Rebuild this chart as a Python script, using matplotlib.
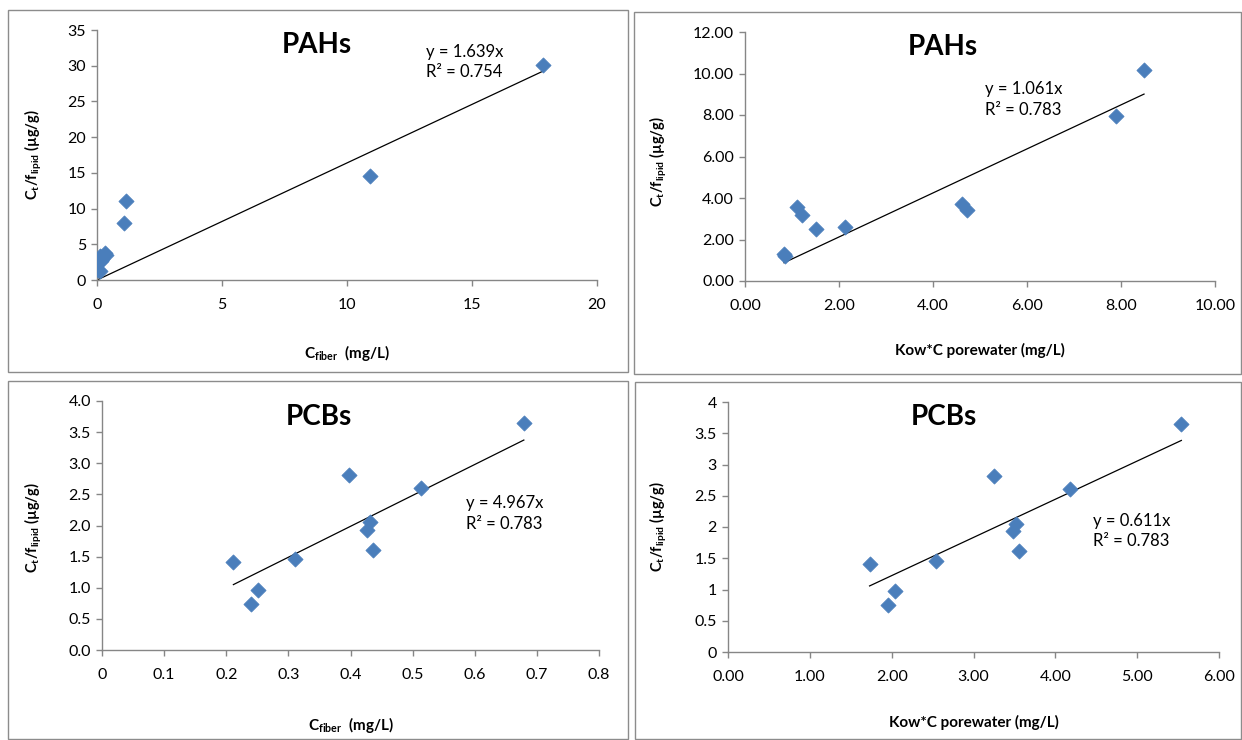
import matplotlib
matplotlib.use("Agg")
import matplotlib.pyplot as plt
import numpy as np
from matplotlib.patches import Rectangle
from matplotlib.ticker import FixedLocator, FixedFormatter

plt.rcParams['font.family'] = ['Lato', 'DejaVu Sans']
plt.rcParams['mathtext.fontset'] = 'custom'
plt.rcParams['mathtext.rm'] = 'Lato'
plt.rcParams['mathtext.bf'] = 'Lato:bold'

# PAHs, C_fiber
pah_fib_x = [17.85, 10.9, 1.15, 1.08, 0.30, 0.35, 0.10, 0.15, 0.20, 0.05, 0.10]
pah_fib_y = [30.1, 14.6, 11.1, 8.05, 3.8, 3.5, 3.4, 2.7, 3.0, 1.35, 1.2]
pah_fib_slope = 1.639
pah_fib_r2 = 0.754

# PAHs, Kow*C porewater
pah_kow_x = [8.49, 7.90, 4.62, 4.72, 1.11, 1.22, 1.50, 2.12, 0.83, 0.85]
pah_kow_y = [10.15, 7.95, 3.71, 3.42, 3.56, 3.18, 2.53, 2.58, 1.30, 1.20]
pah_kow_slope = 1.061
pah_kow_r2 = 0.783

# PCBs, C_fiber
pcb_fib_x = [0.679, 0.513, 0.398, 0.431, 0.426, 0.437, 0.310, 0.2115, 0.2516, 0.2406]
pcb_fib_y = [3.65, 2.61, 2.81, 2.05, 1.93, 1.61, 1.46, 1.41, 0.97, 0.74]
pcb_fib_slope = 4.967
pcb_fib_r2 = 0.783

# PCBs, Kow*C porewater
pcb_kow_x = [5.54, 4.18, 3.25, 3.52, 3.48, 3.56, 2.54, 1.73, 2.04, 1.96]
pcb_kow_y = [3.65, 2.61, 2.81, 2.05, 1.94, 1.61, 1.46, 1.41, 0.97, 0.75]
pcb_kow_slope = 0.611
pcb_kow_r2 = 0.783

W, H = 1242, 740
fig = plt.figure(figsize=(W / 100, H / 100), dpi=100)

# panel frames (pixel boxes: left, top, right, bottom)
for l, t, r, b in [(8, 10, 628, 372), (634, 12, 1241, 374),
                   (8, 381, 628, 739), (635, 382, 1241, 739)]:
    fig.patches.append(Rectangle((l / W, 1 - b / H), (r - l) / W, (b - t) / H,
                                 transform=fig.transFigure, fill=False,
                                 edgecolor='#8c8c8c', linewidth=1.0))

ylab = r'$\mathbf{C_t/f_{lipid}}$ (µg/g)'
xlab_fib = r'$\mathbf{C_{fiber}}$  (mg/L)'
xlab_kow = 'Kow*C porewater (mg/L)'

panels = [
    dict(box=(97, 30, 597, 280), x=pah_fib_x, y=pah_fib_y, k=pah_fib_slope, r2=pah_fib_r2,
         title='PAHs', xt=[0, 5, 10, 15, 20], xl=['0', '5', '10', '15', '20'],
         yt=list(range(0, 36, 5)), yl=[str(v) for v in range(0, 36, 5)],
         xlabel=xlab_fib, ylc=(-0.106, 0.5), xlc=(0.5, -0.252),
         title_pos=(0.44, 0.94), eq_pos=(0.658, 0.912, 0.832), line_from_zero=True),
    dict(box=(745, 32, 1215, 281), x=pah_kow_x, y=pah_kow_y, k=pah_kow_slope, r2=pah_kow_r2,
         title='PAHs', xt=[0, 2, 4, 6, 8, 10], xl=['%.2f' % v for v in [0, 2, 4, 6, 8, 10]],
         yt=[0, 2, 4, 6, 8, 10, 12], yl=['%.2f' % v for v in [0, 2, 4, 6, 8, 10, 12]],
         xlabel=xlab_kow, ylc=(-0.162, 0.478), xlc=(0.5, -0.249),
         title_pos=(0.42, 0.94), eq_pos=(0.51, 0.771, 0.687), line_from_zero=False),
    dict(box=(102, 401, 599, 650), x=pcb_fib_x, y=pcb_fib_y, k=pcb_fib_slope, r2=pcb_fib_r2,
         title='PCBs', xt=[0, 0.1, 0.2, 0.3, 0.4, 0.5, 0.6, 0.7, 0.8],
         xl=['0', '0.1', '0.2', '0.3', '0.4', '0.5', '0.6', '0.7', '0.8'],
         yt=[0, 0.5, 1, 1.5, 2, 2.5, 3, 3.5, 4], yl=['%.1f' % v for v in np.arange(0, 4.01, 0.5)],
         xlabel=xlab_fib, ylc=(-0.117, 0.49), xlc=(0.5, -0.261),
         title_pos=(0.437, 0.936), eq_pos=(0.732, 0.59, 0.506), line_from_zero=False),
    dict(box=(728, 402, 1219, 652), x=pcb_kow_x, y=pcb_kow_y, k=pcb_kow_slope, r2=pcb_kow_r2,
         title='PCBs', xt=[0, 1, 2, 3, 4, 5, 6], xl=['%.2f' % v for v in range(7)],
         yt=[0, 0.5, 1, 1.5, 2, 2.5, 3, 3.5, 4],
         yl=['0', '0.5', '1', '1.5', '2', '2.5', '3', '3.5', '4'],
         xlabel=xlab_kow, ylc=(-0.12, 0.5), xlc=(0.5, -0.252),
         title_pos=(0.44, 0.94), eq_pos=(0.743, 0.524, 0.444), line_from_zero=False),
]

for p in panels:
    l, t, r, b = p['box']
    ax = fig.add_axes([l / W, 1 - b / H, (r - l) / W, (b - t) / H])
    ax.scatter(p['x'], p['y'], marker='D', s=60, color='#4a7ebb', edgecolors='#4a7ebb',
               linewidths=0.5, zorder=3)
    x0 = 0 if p['line_from_zero'] else min(p['x'])
    x1 = max(p['x'])
    ax.plot([x0, x1], [p['k'] * x0, p['k'] * x1], color='black', linewidth=0.9, zorder=2)

    ax.set_xlim(p['xt'][0], p['xt'][-1])
    ax.set_ylim(p['yt'][0], p['yt'][-1])
    ax.xaxis.set_major_locator(FixedLocator(p['xt']))
    ax.xaxis.set_major_formatter(FixedFormatter(p['xl']))
    ax.yaxis.set_major_locator(FixedLocator(p['yt']))
    ax.yaxis.set_major_formatter(FixedFormatter(p['yl']))
    for s in ['top', 'right']:
        ax.spines[s].set_visible(False)
    for s in ['left', 'bottom']:
        ax.spines[s].set_color('#868686')
        ax.spines[s].set_linewidth(1.0)
    ax.tick_params(axis='both', direction='out', length=4, width=1.0, color='#868686',
                   labelsize=11.5, labelcolor='black')
    ax.tick_params(axis='x', pad=9)
    ax.tick_params(axis='y', pad=4)
    ax.set_facecolor('none')

    ax.set_ylabel(ylab, fontsize=10.5, fontweight='bold')
    ax.yaxis.set_label_coords(*p['ylc'])
    ax.set_xlabel(p['xlabel'], fontsize=11, fontweight='bold')
    ax.xaxis.set_label_coords(*p['xlc'])

    ax.text(p['title_pos'][0], p['title_pos'][1], p['title'], transform=ax.transAxes,
            ha='center', va='center', fontsize=20, fontweight='bold')
    ex, ey1, ey2 = p['eq_pos']
    ax.text(ex, ey1, 'y = %.3fx' % p['k'], transform=ax.transAxes, ha='left', va='center',
            fontsize=12)
    ax.text(ex, ey2, 'R² = %.3f' % p['r2'], transform=ax.transAxes, ha='left', va='center',
            fontsize=12)

fig.savefig('out.png', dpi=100)
